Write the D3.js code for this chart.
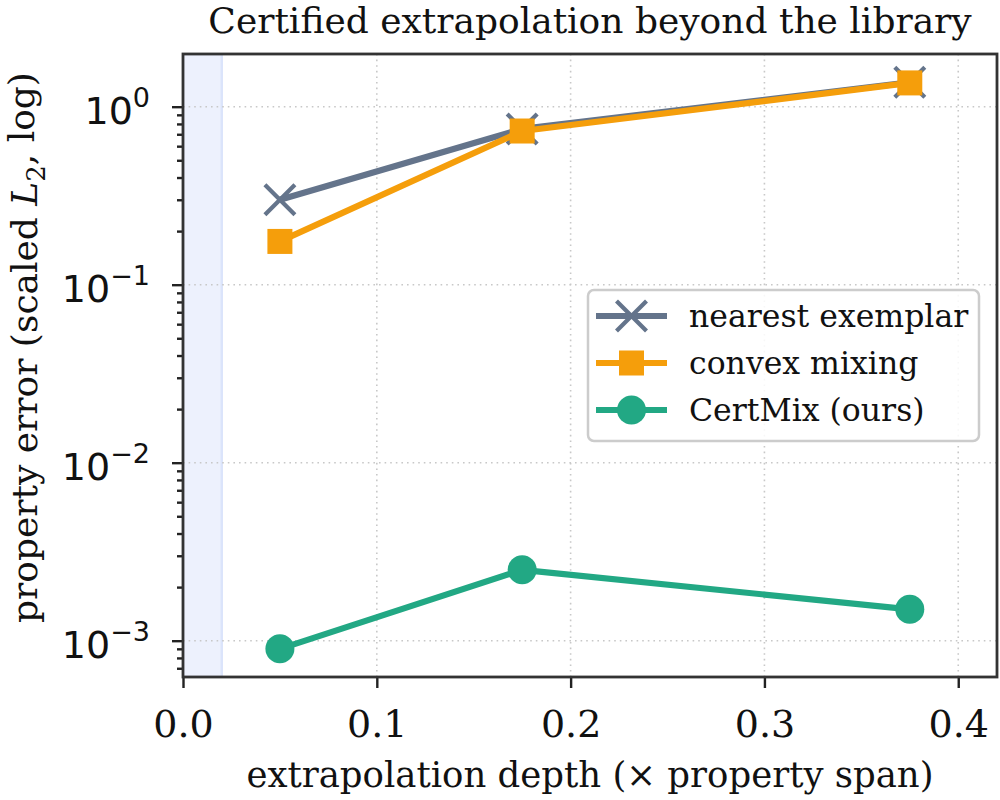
<!DOCTYPE html>
<html><head><meta charset="utf-8">
<script src="https://cdn.jsdelivr.net/npm/d3@7"></script>
<style>
body{margin:0;background:#fff;}
svg{display:block;font-family:"DejaVu Serif",serif;}
</style></head>
<body><svg id="c" width="1000" height="800"></svg>
<script>
const depths = [0.05, 0.175, 0.375];
const nearestExemplar = [0.30, 0.75, 1.37];
const convexMixing = [0.175, 0.73, 1.36];
const certMix = [9.0e-4, 2.5e-3, 1.5e-3];
const seriesNames = ["nearest exemplar", "convex mixing", "CertMix (ours)"];
const xTicks = [0.0, 0.1, 0.2, 0.3, 0.4];
const yTicks = [1e-3, 1e-2, 1e-1, 1];
const yExponents = ["\u22123", "\u22122", "\u22121", "0"];
const bandRange = [0.0, 0.02];

const svg = d3.select("#c");
const L = 183, R = 997, T = 54, B = 677;
const x = d3.scaleLinear().domain([0, 0.42]).range([L, R]);
const y = d3.scaleLog().domain([Math.pow(10, -3.204), Math.pow(10, 0.296)]).range([B, T]);

// band
svg.append("rect").attr("x", x(bandRange[0])).attr("y", T).attr("width", x(bandRange[1]) - x(bandRange[0])).attr("height", B - T)
  .attr("fill", "#edf1fd");
svg.append("line").attr("x1", x(bandRange[1])).attr("x2", x(bandRange[1])).attr("y1", T).attr("y2", B)
  .attr("stroke", "#dbe4fb").attr("stroke-width", 2.5);

// grid
const grid = svg.append("g").attr("stroke", "#c8c8c8").attr("stroke-width", 1.6).attr("stroke-dasharray", "1.6,4");
xTicks.forEach(t => grid.append("line").attr("x1", x(t)).attr("x2", x(t)).attr("y1", T).attr("y2", B));
yTicks.forEach(t => grid.append("line").attr("x1", L).attr("x2", R).attr("y1", y(t)).attr("y2", y(t)));

// series
const colors = ["#64748b", "#f59e0b", "#22a884"];
const data = [nearestExemplar, convexMixing, certMix];
const line = d3.line().x((d, i) => x(depths[i])).y(d => y(d));
const lw = 6.2;

function drawMarker(g, kind, cx, cy, col) {
  if (kind === 0) {
    const s = 15;
    g.append("path").attr("d", `M${cx - s},${cy - s}L${cx + s},${cy + s}M${cx - s},${cy + s}L${cx + s},${cy - s}`)
      .attr("stroke", col).attr("stroke-width", 4.2).attr("fill", "none");
  } else if (kind === 1) {
    const s = 12.5;
    g.append("rect").attr("x", cx - s).attr("y", cy - s).attr("width", 2 * s).attr("height", 2 * s).attr("fill", col);
  } else {
    g.append("circle").attr("cx", cx).attr("cy", cy).attr("r", 14.5).attr("fill", col);
  }
}

data.forEach((vals, k) => {
  const g = svg.append("g");
  g.append("path").datum(vals).attr("d", line).attr("fill", "none").attr("stroke", colors[k]).attr("stroke-width", lw)
    .attr("stroke-linejoin", "round");
  vals.forEach((v, i) => drawMarker(g, k, x(depths[i]), y(v), colors[k]));
});

// axes
const xAxis = svg.append("g").attr("transform", `translate(0,${B})`)
  .call(d3.axisBottom(x).tickValues(xTicks).tickFormat(d3.format(".1f")).tickSize(11).tickPadding(22));
xAxis.selectAll("text").attr("font-size", 38).attr("fill", "#111").attr("font-family", "DejaVu Serif");

const yAxis = svg.append("g").attr("transform", `translate(${L},0)`)
  .call(d3.axisLeft(y).tickValues(yTicks).tickFormat("").tickSize(11));
yAxis.selectAll(".tick").each(function (d, i) {
  const t = d3.select(this).append("text").attr("x", -33).attr("y", 17).attr("text-anchor", "end")
    .attr("fill", "#111").attr("font-size", 38).attr("font-family", "DejaVu Sans");
  t.append("tspan").text("10");
  t.append("tspan").attr("font-size", 27).attr("dy", -17).text(yExponents[i]);
});
const minorVals = [];
for (let e = -4; e <= 0; e++) for (let m = 2; m <= 9; m++) {
  const v = m * Math.pow(10, e);
  if (v >= y.domain()[0] && v <= y.domain()[1]) minorVals.push(v);
}
svg.append("g").attr("transform", `translate(${L},0)`)
  .call(d3.axisLeft(y).tickValues(minorVals).tickFormat("").tickSize(6))
  .call(g => g.select(".domain").remove());

svg.selectAll(".tick line").attr("stroke", "#222").attr("stroke-width", 2.4);
svg.selectAll(".domain").remove();

// frame
svg.append("rect").attr("x", L).attr("y", T).attr("width", R - L).attr("height", B - T)
  .attr("fill", "none").attr("stroke", "#333").attr("stroke-width", 2.8);

// title & labels
svg.append("text").attr("x", (L + R) / 2).attr("y", 33).attr("text-anchor", "middle").attr("font-size", 36)
  .attr("fill", "#111").text("Certified extrapolation beyond the library");
svg.append("text").attr("x", (L + R) / 2).attr("y", 787).attr("text-anchor", "middle").attr("font-size", 35.5)
  .attr("fill", "#111").text("extrapolation depth (\u00d7 property span)");
const yl = svg.append("text").attr("transform", `translate(37,${(T + B) / 2 - 18}) rotate(-90)`).attr("text-anchor", "middle")
  .attr("font-size", 36).attr("fill", "#111");
yl.append("tspan").text("property error (scaled ");
yl.append("tspan").attr("font-style", "italic").text("L");
yl.append("tspan").attr("font-size", 26).attr("dy", "0.3em").text("2");
yl.append("tspan").attr("dy", "-0.3em").text(", log)");

// legend
const lg = svg.append("g");
lg.append("rect").attr("x", 588).attr("y", 290).attr("width", 391).attr("height", 151).attr("rx", 6)
  .attr("fill", "#fff").attr("fill-opacity", 0.85).attr("stroke", "#cccccc").attr("stroke-width", 2.5);
const rowsY = [316, 363, 410];
seriesNames.forEach((n, k) => {
  lg.append("line").attr("x1", 596).attr("x2", 667).attr("y1", rowsY[k]).attr("y2", rowsY[k])
    .attr("stroke", colors[k]).attr("stroke-width", lw);
  drawMarker(lg, k, 631.5, rowsY[k], colors[k]);
  lg.append("text").attr("x", 689).attr("y", rowsY[k]).attr("dy", "0.35em").attr("font-size", 31.5)
    .attr("fill", "#111").text(n);
});
</script></body></html>
